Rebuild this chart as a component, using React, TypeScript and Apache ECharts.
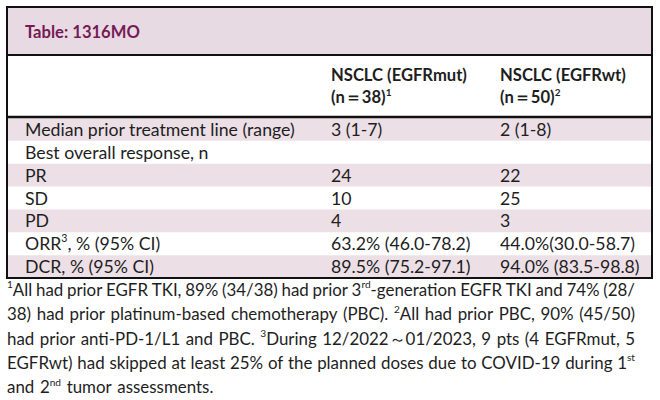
import React, { useEffect, useRef } from "react";
import * as echarts from "echarts";

const titleText = "Table: 1316MO";
const headerMut = ["NSCLC (EGFRmut)", "(n＝38){1}"];
const headerWt = ["NSCLC (EGFRwt)", "(n＝50){2}"];
const rowLabels = [
  "Median prior treatment line (range)",
  "Best overall response, n",
  "PR",
  "SD",
  "PD",
  "ORR{3}, % (95% CI)",
  "DCR, % (95% CI)",
];
const egfrMutValues = ["3 (1-7)", "", "24", "10", "4", "63.2% (46.0-78.2)", "89.5% (75.2-97.1)"];
const egfrWtValues = ["2 (1-8)", "", "22", "25", "3", "44.0%(30.0-58.7)", "94.0% (83.5-98.8)"];
const footnoteLines = [
  "{1}All had prior EGFR TKI, 89% (34/38) had prior 3{rd}-generation EGFR TKI and 74% (28/",
  "38) had prior platinum-based chemotherapy (PBC). {2}All had prior PBC, 90% (45/50)",
  "had prior anti-PD-1/L1 and PBC. {3}During 12/2022～01/2023, 9 pts (4 EGFRmut, 5",
  "EGFRwt) had skipped at least 25% of the planned doses due to COVID-19 during 1{st}",
  "and 2{nd} tumor assessments.",
];

const FONT = "Lato, 'Noto Sans', sans-serif";
const SIZE = 17.7;
const FN_SIZE = 16.9;
const BOLD_SIZE = 16.6;
const TEXT = "#1e1e1e";
const PINK = "#ecdfe6";
const TITLE_BG = "#e8dae2";
const TITLE_COLOR = "#761a55";

let ctx: CanvasRenderingContext2D | null = null;
function measure(t: string, size: number, weight: string) {
  if (!ctx) ctx = document.createElement("canvas").getContext("2d");
  ctx!.font = `${weight} ${size}px ${FONT}`;
  return ctx!.measureText(t).width;
}

type Seg = { t: string; sup: boolean };
function parseSegs(s: string): Seg[] {
  const out: Seg[] = [];
  s.split(/(\{[^}]*\})/).forEach((p) => {
    if (!p) return;
    if (p.startsWith("{")) out.push({ t: p.slice(1, -1), sup: true });
    else out.push({ t: p, sup: false });
  });
  return out;
}
function segWidth(segs: Seg[], size: number, weight: string) {
  return segs.reduce((a, s) => a + measure(s.t, s.sup ? size * 0.6 : size, weight), 0);
}
function richText(s: string, x: number, y: number, size: number, weight: string, fill: string, z = 5): any[] {
  const out: any[] = [];
  let cx = x;
  parseSegs(s).forEach((seg) => {
    const fs = seg.sup ? size * 0.6 : size;
    const dy = seg.sup ? -size * 0.3 : 0;
    out.push({
      type: "text",
      x: cx,
      y: y + dy,
      z,
      style: { text: seg.t, font: `${weight} ${fs}px ${FONT}`, fill, align: "left", verticalAlign: "middle" },
    });
    cx += measure(seg.t, fs, weight);
  });
  return out;
}

const L = 7, R = 652, T = 7, TITLE_B = 55, HEAD_B = 117, BODY_B = 278;
const COL1 = 25, COL2 = 331, COL3 = 500;
const FN_LEFT = 7, FN_RIGHT = 635, FN_Y0 = 289.5, FN_STEP = 24.3;

function footnoteElements(): any[] {
  const els: any[] = [];
  footnoteLines.forEach((line, li) => {
    const words = line.split(" ").map((w) => parseSegs(w));
    const widths = words.map((w) => segWidth(w, FN_SIZE, "normal"));
    const total = widths.reduce((a, b) => a + b, 0);
    const last = li === footnoteLines.length - 1;
    const gap = last ? measure(" ", FN_SIZE, "normal") * 1.3 : (FN_RIGHT - FN_LEFT - total) / (words.length - 1);
    let x = FN_LEFT;
    const y = FN_Y0 + li * FN_STEP;
    words.forEach((w, wi) => {
      const txt = w.map((s) => (s.sup ? `{${s.t}}` : s.t)).join("");
      els.push(...richText(txt, x, y, FN_SIZE, "normal", TEXT));
      x += widths[wi] + gap;
    });
  });
  return els;
}

export default function App() {
  const ref = useRef<HTMLDivElement>(null);
  useEffect(() => {
    const chart = echarts.init(ref.current!, null, { renderer: "svg" });
    const headerY1 = 75, headerY2 = 97;
    chart.setOption({
      animation: false,
      backgroundColor: "#ffffff",
      grid: { left: L, right: 660 - R, top: HEAD_B + 1, bottom: 400 - BODY_B, containLabel: false },
      xAxis: { type: "value", min: 0, max: 1, show: false },
      yAxis: { type: "category", data: rowLabels, inverse: true, show: false },
      series: [
        {
          type: "custom",
          encode: { x: 0, y: 1 },
          data: rowLabels.map((_, i) => [0, i]),
          renderItem: (params: any, api: any) => {
            const i = api.value(1);
            const [x0, yc] = api.coord([0, i]);
            const [w] = api.size([1, 0]);
            const h = api.size([0, 1])[1];
            const children: any[] = [];
            if (i % 2 === 0) {
              children.push({ type: "rect", shape: { x: x0, y: yc - h / 2, width: w, height: h }, style: { fill: PINK } });
            }
            children.push(...richText(rowLabels[i], COL1, yc, SIZE, "normal", TEXT));
            children.push(...richText(egfrMutValues[i], COL2, yc, SIZE, "normal", TEXT));
            children.push(...richText(egfrWtValues[i], COL3, yc, SIZE, "normal", TEXT));
            return { type: "group", children };
          },
        },
      ],
      graphic: [
        { type: "rect", z: 1, shape: { x: L, y: T, width: R - L, height: TITLE_B - T }, style: { fill: TITLE_BG } },
        ...richText(titleText, COL1, 32, BOLD_SIZE, "bold", TITLE_COLOR),
        ...richText(headerMut[0], COL2, headerY1, BOLD_SIZE, "bold", TEXT),
        ...richText(headerMut[1], COL2, headerY2, BOLD_SIZE, "bold", TEXT),
        ...richText(headerWt[0], COL3, headerY1, BOLD_SIZE, "bold", TEXT),
        ...richText(headerWt[1], COL3, headerY2, BOLD_SIZE, "bold", TEXT),
        { type: "line", z: 20, shape: { x1: L, y1: TITLE_B, x2: R, y2: TITLE_B }, style: { stroke: "#111", lineWidth: 2 } },
        { type: "line", z: 20, shape: { x1: L, y1: HEAD_B, x2: R, y2: HEAD_B }, style: { stroke: "#111", lineWidth: 2.5 } },
        { type: "rect", z: 20, shape: { x: L, y: T, width: R - L, height: BODY_B - T }, style: { fill: "none", stroke: "#111", lineWidth: 2 } },
        ...footnoteElements(),
      ],
    });
    return () => chart.dispose();
  }, []);
  return <div ref={ref} style={{ position: "absolute", left: 0, top: 0, width: 660, height: 400 }} />;
}
